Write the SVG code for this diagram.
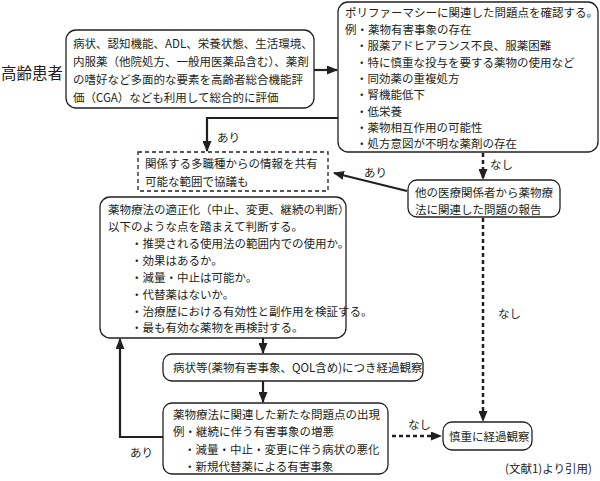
<svg xmlns="http://www.w3.org/2000/svg" width="600" height="481" viewBox="0 0 600 481">
<style>
text{font-family:"Noto Sans CJK JP","Noto Sans",sans-serif;font-size:11.5px;fill:#231f20;dominant-baseline:central}
.box{fill:#fff;stroke:#231f20;stroke-width:1.3}
.dbox{fill:#fff;stroke:#231f20;stroke-width:1.3;stroke-dasharray:4 3}
.ln{fill:none;stroke:#231f20;stroke-width:2.2}
.dl{fill:none;stroke:#231f20;stroke-width:2.5;stroke-dasharray:4 3}
</style>
<defs>
<marker id="ah" markerUnits="userSpaceOnUse" markerWidth="11" markerHeight="9" refX="10" refY="4.5" orient="auto">
<path d="M0,0 L11,4.5 L0,9 z" fill="#231f20"/>
</marker>
</defs>
<g id="connectors">
<line class="ln" x1="314" y1="70" x2="337" y2="70" marker-end="url(#ah)"/>
<polyline class="ln" points="338,118 207,118 207,151" marker-end="url(#ah)"/>
<line class="dl" x1="483" y1="153" x2="483" y2="179" marker-end="url(#ah)"/>
<line class="ln" x1="407" y1="191" x2="334" y2="173" marker-end="url(#ah)"/>
<line class="dl" x1="483" y1="218" x2="483" y2="421" marker-end="url(#ah)"/>
<line class="ln" x1="263" y1="338" x2="263" y2="353" marker-end="url(#ah)"/>
<line class="ln" x1="263" y1="381" x2="263" y2="402" marker-end="url(#ah)"/>
<polyline class="ln" points="163,437 120,437 120,339" marker-end="url(#ah)"/>
<line class="dl" x1="392" y1="436" x2="441" y2="436" marker-end="url(#ah)"/>
<text x="217" y="137">あり</text>
<text x="490" y="164">なし</text>
<text x="364" y="172">あり</text>
<text x="498" y="313">なし</text>
<text x="130" y="452">あり</text>
<text x="408" y="424">なし</text>
</g>
<g id="patient"><text x="1" y="72" style="font-size:15.5px">高齢患者</text></g>
<g id="assess">
<rect class="box" x="66" y="30" width="248" height="78" rx="10"/>
<text x="73" y="43">病状、認知機能、ADL、栄養状態、生活環境、</text>
<text x="73" y="61">内服薬（他院処方、一般用医薬品含む）、薬剤</text>
<text x="73" y="79">の嗜好など多面的な要素を高齢者総合機能評</text>
<text x="73" y="97">価（CGA）なども利用して総合的に評価</text>
</g>
<g id="check">
<rect class="box" x="338" y="2" width="260" height="150" rx="10"/>
<text x="345" y="12">ポリファーマシーに関連した問題点を確認する。</text>
<text x="345" y="29">例・薬物有害事象の存在</text>
<text x="356" y="45">・服薬アドヒアランス不良、服薬困難</text>
<text x="356" y="62">・特に慎重な投与を要する薬物の使用など</text>
<text x="356" y="78">・同効薬の重複処方</text>
<text x="356" y="94">・腎機能低下</text>
<text x="356" y="111">・低栄養</text>
<text x="356" y="127">・薬物相互作用の可能性</text>
<text x="356" y="143">・処方意図が不明な薬剤の存在</text>
</g>
<g id="share">
<rect class="dbox" x="138" y="152" width="190" height="39"/>
<text x="145" y="163">関係する多職種からの情報を共有</text>
<text x="145" y="181">可能な範囲で協議も</text>
</g>
<g id="report">
<rect class="box" x="408" y="180" width="152" height="37" rx="9"/>
<text x="415" y="192">他の医療関係者から薬物療</text>
<text x="415" y="209">法に関連した問題の報告</text>
</g>
<g id="optimize">
<rect class="box" x="100" y="197" width="246" height="141" rx="10"/>
<text x="108" y="209">薬物療法の適正化（中止、変更、継続の判断）</text>
<text x="108" y="226">以下のような点を踏まえて判断する。</text>
<text x="131" y="243">・推奨される使用法の範囲内での使用か。</text>
<text x="131" y="260">・効果はあるか。</text>
<text x="131" y="277">・減量・中止は可能か。</text>
<text x="131" y="294">・代替薬はないか。</text>
<text x="131" y="311">・治療歴における有効性と副作用を検証する。</text>
<text x="131" y="327">・最も有効な薬物を再検討する。</text>
</g>
<g id="observe">
<rect class="box" x="163" y="354" width="260" height="27" rx="9"/>
<text x="173" y="367">病状等(薬物有害事象、QOL含め)につき経過観察</text>
</g>
<g id="newissue">
<rect class="box" x="163" y="403" width="225" height="71" rx="9"/>
<text x="173" y="414">薬物療法に関連した新たな問題点の出現</text>
<text x="173" y="431">例・継続に伴う有害事象の増悪</text>
<text x="184" y="449">・減量・中止・変更に伴う病状の悪化</text>
<text x="184" y="466">・新規代替薬による有害事象</text>
</g>
<g id="careful">
<rect class="box" x="443" y="422" width="89" height="28" rx="9"/>
<text x="449" y="436">慎重に経過観察</text>
</g>
<text x="505" y="468">(文献1)より引用)</text>
</svg>
